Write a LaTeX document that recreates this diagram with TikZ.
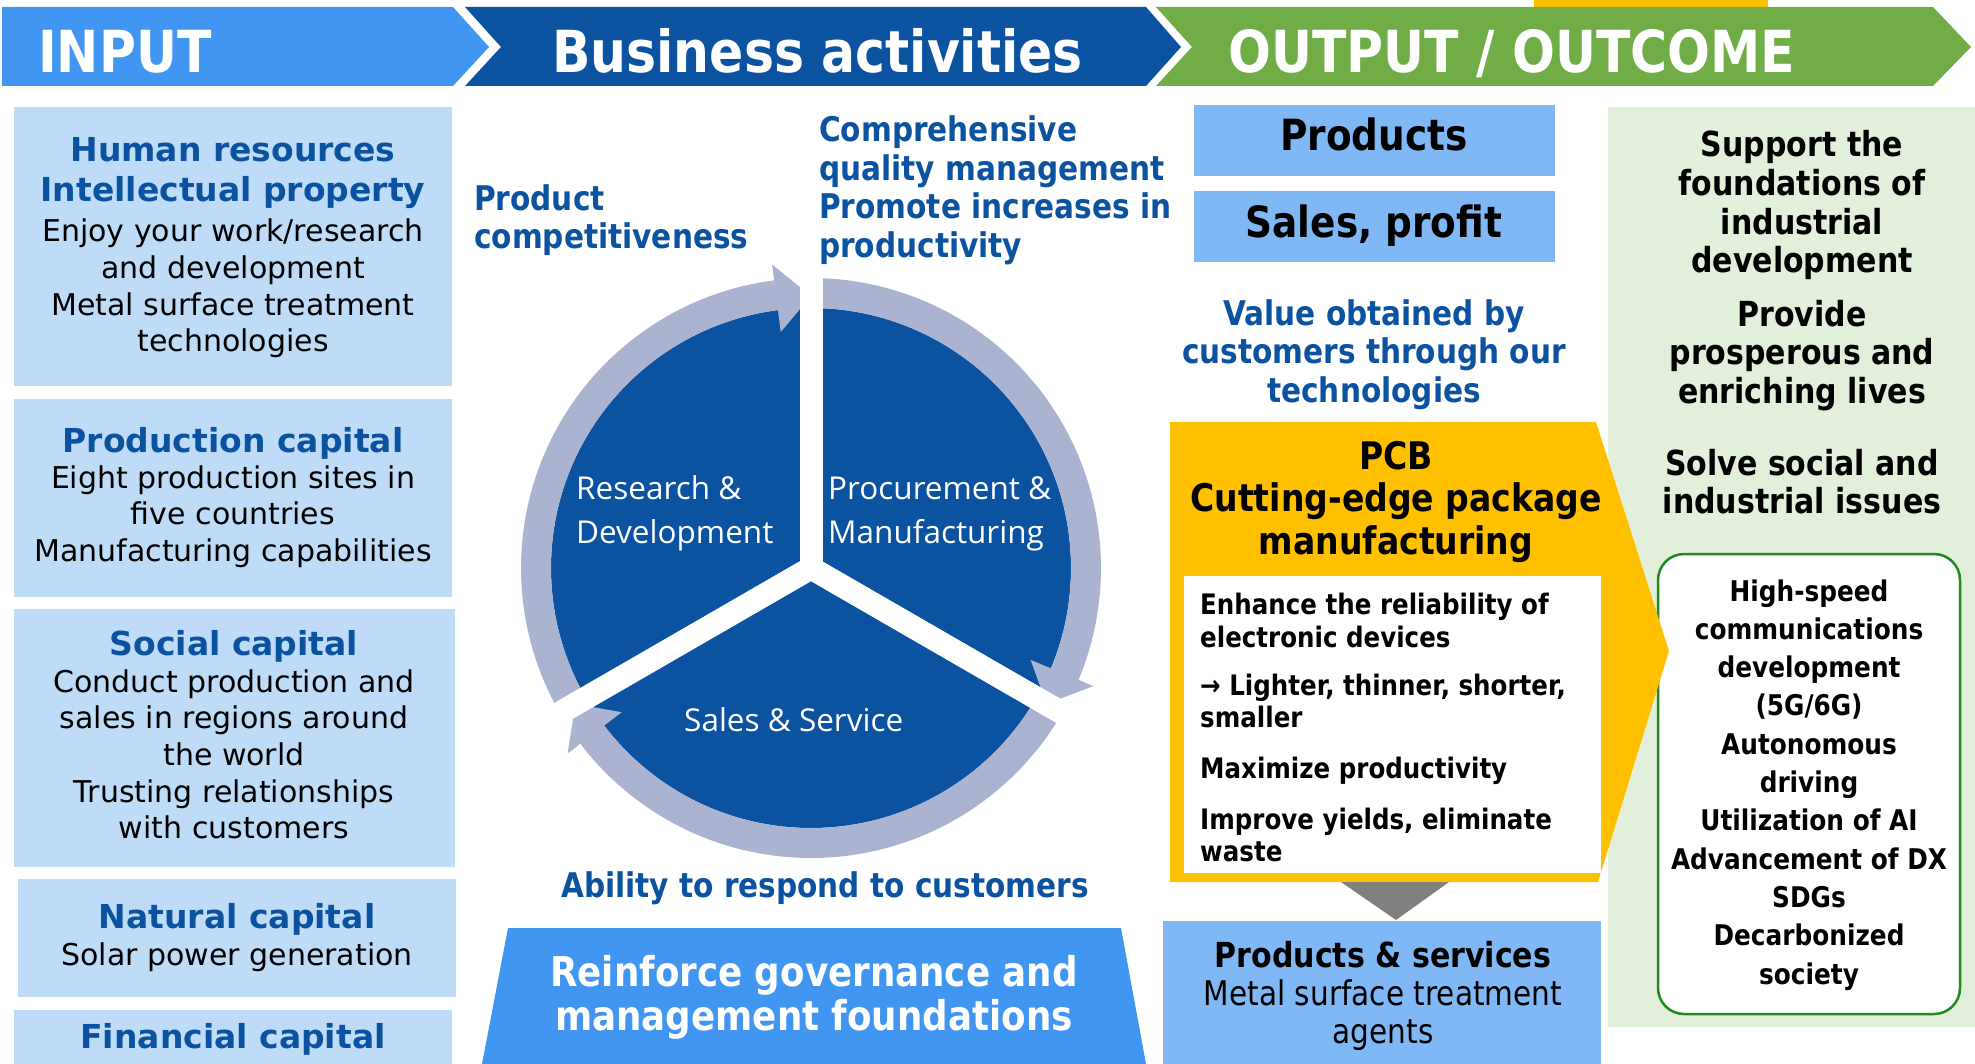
\documentclass[tikz,border=0pt]{standalone}
\usepackage{fontspec}
\setmainfont{DejaVu Sans}
\newfontfamily\tahoma[FakeStretch=0.87]{DejaVu Sans}
\newfontfamily\segoe{Open Sans}
\usetikzlibrary{positioning}

\definecolor{inblue}{RGB}{64,150,240}
\definecolor{navy}{RGB}{11,82,160}
\definecolor{outgreen}{RGB}{112,173,71}
\definecolor{paleblue}{RGB}{190,220,248}
\definecolor{midblue}{RGB}{127,184,245}
\definecolor{ringgray}{RGB}{170,180,208}
\definecolor{gold}{RGB}{255,192,0}
\definecolor{palegreen}{RGB}{226,239,218}
\definecolor{framegreen}{RGB}{30,140,30}
\newcommand{\fsz}[2]{\fontsize{#1}{#2}\selectfont}

\begin{document}
\begin{tikzpicture}[x=1pt, y=-1pt, inner sep=0pt, node distance=86.5pt, on grid,
    banner/.style={anchor=base west, text=white, font=\tahoma\bfseries\fsz{58}{60}},
    capname/.style={anchor=base, align=center, text=navy, font=\bfseries\fsz{33}{40}},
    captext/.style={anchor=base, align=center, font=\fsz{30}{36.7}},
    bluetext/.style={anchor=base west, align=left, text=navy, font=\tahoma\bfseries\fsz{34}{38.5}},
    wheel/.style={anchor=base west, align=left, text=white, font=\segoe\fsz{31.5}{44}},
    resultbox/.style={fill=midblue, minimum width=361pt, minimum height=71pt, text height=31pt, text depth=10pt, font=\tahoma\bfseries\fsz{43}{45}},
    blacktext/.style={anchor=base, align=center, font=\tahoma\bfseries\fsz{34.5}{38.7}},
    pcbtext/.style={anchor=base west, align=left, font=\tahoma\bfseries\fsz{28.2}{32.5}},
    goaltext/.style={anchor=base, align=center, font=\tahoma\bfseries\fsz{28.5}{38.3}}]
\useasboundingbox (0,0) rectangle (1975,1064);

% header
\fill[gold] (1534,0) rectangle (1768,9);
\fill[inblue] (2,7) -- (453,7) -- (489,47) -- (453,86) -- (2,86) -- cycle;
\fill[navy] (465,7) -- (1146,7) -- (1181,47) -- (1146,86) -- (465,86) -- (501,47) -- cycle;
\fill[outgreen] (1156,7) -- (1933,7) -- (1971,47) -- (1933,86) -- (1156,86) -- (1192,47) -- cycle;
\node[banner] (input) at (38,73) {INPUT};
\node[banner] (business) at (552,73) {Business activities};
\node[banner] (output) at (1228,73) {OUTPUT / OUTCOME};

% input capitals (multi-line nodes sit on their last baseline)
\fill[paleblue] (14,107) rectangle (452,386);
\fill[paleblue] (14,399) rectangle (452,597);
\fill[paleblue] (14,609) rectangle (455,867);
\fill[paleblue] (18,879) rectangle (456,997);
\fill[paleblue] (14,1010) rectangle (452,1064);
\node[capname] (hr_head) at (233,202) {Human resources\\Intellectual property};
\node[captext] (hr_text) at (233,352) {Enjoy your work/research\\and development\\Metal surface treatment\\technologies};
\node[capname] (prod_head) at (233,452) {Production capital};
\node[captext] (prod_text) at (233,561.5) {Eight production sites in\\five countries\\Manufacturing capabilities};
\node[capname] (soc_head) at (234,655) {Social capital};
\node[captext] (soc_text) at (234,838.8) {Conduct production and\\sales in regions around\\the world\\Trusting relationships\\with customers};
\node[capname] (nat_head) at (237,928) {Natural capital};
\node[captext] (nat_text) at (237,965) {Solar power generation};
\node[capname] (fin_head) at (233,1048) {Financial capital};

% business cycle
\begin{scope}[shift={(811,568)}, yscale=-1]
  \fill[navy] (0,0) circle[radius=260];
  \foreach \a in {90,-30,-150}
    \fill[ringgray] (\a:290) arc[start angle=\a, end angle=\a-112.7, radius=290]
      -- (\a-112.7:306) -- (\a-120:272) -- (\a-112.7:238)
      -- (\a-112.7:260) arc[start angle=\a-112.7, end angle=\a, radius=260] -- cycle;
  \foreach \a in {90,-30,-150}
    \draw[white, line width=23pt] (0,0) -- (\a:312);
\end{scope}
\node[wheel] (rd) at (576,543) {Research \&\\Development};
\node[wheel] (pm) at (828,543) {Procurement \&\\Manufacturing};
\node[wheel] (ss) at (684,731) {Sales \& Service};
\node[bluetext] (compet) at (474,249) {Product\\competitiveness};
\node[bluetext] (quality) at (819,257.5) {Comprehensive\\quality management\\Promote increases in\\productivity};
\node[bluetext, anchor=base] (respond) at (825,897) {Ability to respond to customers};
\fill[inblue] (508,928) -- (1121,928) -- (1146,1064) -- (482,1064) -- cycle;
\node[anchor=base, align=center, text=white, font=\tahoma\bfseries\fsz{41}{44}] (govern) at (814,1030) {Reinforce governance and\\management foundations};

% outcome
\fill[palegreen] (1608,107) rectangle (1975,1027);
\node[blacktext] (support) at (1802,273) {Support the\\foundations of\\industrial\\development};
\node[blacktext] (provide) at (1802,403.4) {Provide\\prosperous and\\enriching lives};
\node[blacktext] (solve) at (1802,513.7) {Solve social and\\industrial issues};
\draw[framegreen, fill=white, line width=2.5pt, rounded corners=26pt] (1658,554) rectangle (1960,1014);
\node[goaltext] (goals) at (1809,984) {High-speed\\communications\\development\\(5G/6G)\\Autonomous\\driving\\Utilization of AI\\Advancement of DX\\SDGs\\Decarbonized\\society};

% output
\node[resultbox] (products) at (1374,140.5) {Products};
\node[resultbox, below=of products] (sales) {Sales, profit};
\node[bluetext, anchor=base, align=center] (value) at (1374,402) {Value obtained by\\customers through our\\technologies};
\fill[gold] (1170,422) -- (1596,422) -- (1669,651) -- (1598,882) -- (1170,882) -- cycle;
\fill[white] (1184,576) rectangle (1601,873);
\node[anchor=base, align=center, font=\tahoma\bfseries\fsz{38}{42.5}] (pcb) at (1396,554) {PCB\\Cutting-edge package\\manufacturing};
\node[pcbtext] (reliab) at (1200,647) {Enhance the reliability of\\electronic devices};
\node[pcbtext] (lighter) at (1200,727.5) {→ Lighter, thinner, shorter,\\smaller};
\node[pcbtext] (maxprod) at (1200,778) {Maximize productivity};
\node[pcbtext] (yields) at (1200,861.5) {Improve yields, eliminate\\waste};
\fill[gray] (1341,882) -- (1449,882) -- (1396,920) -- cycle;
\fill[midblue] (1163,921) rectangle (1601,1064);
\node[blacktext] (services) at (1383,967) {Products \& services};
\node[anchor=base, align=center, font=\tahoma\fsz{34}{38}] (agents) at (1383,1043) {Metal surface treatment\\agents};
\end{tikzpicture}
\end{document}
